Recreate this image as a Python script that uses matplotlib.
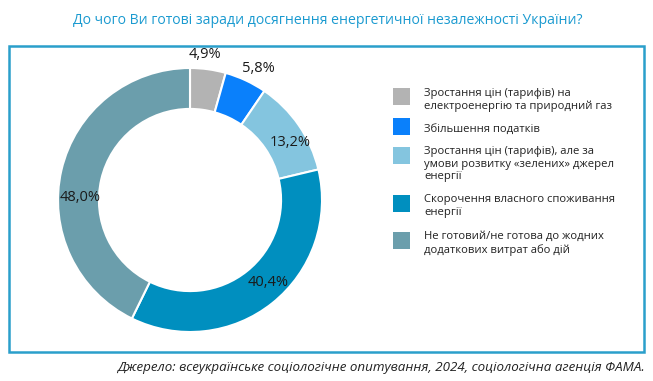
import numpy as np
import matplotlib
matplotlib.use("Agg")
import matplotlib.pyplot as plt
from matplotlib.patches import Rectangle

plt.rcParams['font.family'] = ['Open Sans', 'DejaVu Sans']

# data
labels = ['Зростання цін (тарифів) на\nелектроенергію та природний газ',
          'Збільшення податків',
          'Зростання цін (тарифів), але за\nумови розвитку «зелених» джерел\nенергії',
          'Скорочення власного споживання\nенергії',
          'Не готовий/не готова до жодних\nдодаткових витрат або дій']
values = [4.9, 5.8, 13.2, 40.4, 48.0]
colors = ['#b3b3b3', '#0a80fb', '#84c5df', '#008fbf', '#6b9eac']
value_text = ['4,9%', '5,8%', '13,2%', '40,4%', '48,0%']

title = 'До чого Ви готові заради досягнення енергетичної незалежності України?'
source = 'Джерело: всеукраїнське соціологічне опитування, 2024, соціологічна агенція ФАМА.'

W, H = 653, 381
fig = plt.figure(figsize=(W / 100, H / 100), dpi=100)

# frame around the chart
frame = Rectangle((9 / W, 1 - 352 / H), 635 / W, 306 / H, transform=fig.transFigure,
                  fill=False, edgecolor='#2a9fcb', linewidth=1.8)
fig.patches.append(frame)

fig.text(328 / W, 1 - 20 / H, title, ha='center', va='center',
         fontsize=10.1, color='#1a9ad0')
fig.text(645 / W, 1 - 367 / H, source, ha='right', va='center',
         fontsize=9.6, style='italic', fontstretch='normal', color='#222222')

# donut
cx, cy, r = 190, 200, 132
ax = fig.add_axes([(cx - r) / W, 1 - (cy + r) / H, 2 * r / W, 2 * r / H])
wedges, _ = ax.pie(values, colors=colors, startangle=90, counterclock=False,
                   radius=1, wedgeprops=dict(width=0.31, edgecolor='white', linewidth=1.5))
ax.set_xlim(-1, 1)
ax.set_ylim(-1, 1)
ax.axis('off')

# label placement (radius, angle nudge in degrees)
lbl_r = [1.11, 1.125, 0.875, 0.86, 0.835]
lbl_nudge = [2, -2.3, -4.4, 5, 12]
for w, txt, rr, dn in zip(wedges, value_text, lbl_r, lbl_nudge):
    ang = np.deg2rad((w.theta1 + w.theta2) / 2 + dn)
    ax.text(rr * np.cos(ang), rr * np.sin(ang), txt, ha='center', va='center',
            fontsize=10.5, color='#1a1a1a')

# legend drawn by hand
text_y = [94, 130, 152, 200, 237]
square_y = [88, 118, 147, 195, 232]
for ty, sy, lab, c in zip(text_y, square_y, labels, colors):
    sq = Rectangle((393 / W, 1 - (sy + 17) / H), 17 / W, 17 / H,
                   transform=fig.transFigure, facecolor=c, edgecolor='none')
    fig.patches.append(sq)
    fig.text(424 / W, 1 - (ty - 6) / H, lab, ha='left', va='top',
             fontsize=8.1, color='#222222', linespacing=1.2)

fig.savefig('out.png', dpi=100)
